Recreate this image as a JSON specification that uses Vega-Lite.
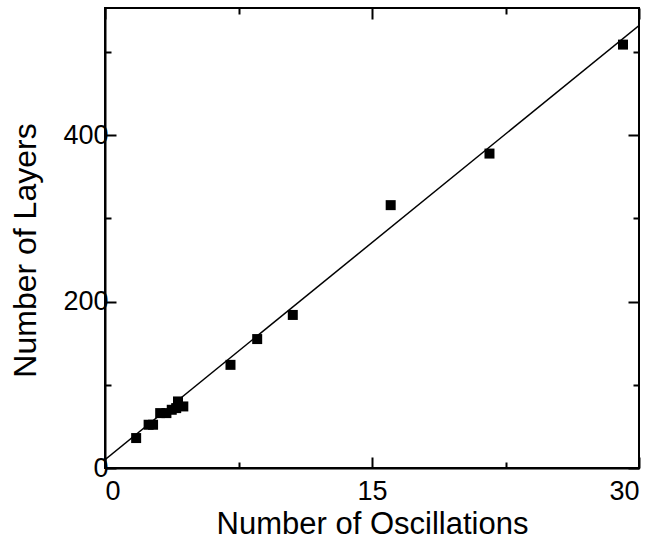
{
  "$schema": "https://vega.github.io/schema/vega-lite/v6.json",
  "width": 534,
  "height": 460,
  "autosize": {"type": "none"},
  "padding": {"left": 105, "top": 8, "right": 14, "bottom": 80},
  "background": "white",
  "config": {
    "view": {"stroke": "black", "strokeWidth": 2},
    "font": "Liberation Sans",
    "axis": {
      "domainColor": "black", "domainWidth": 2,
      "tickColor": "black", "tickWidth": 2,
      "grid": false,
      "labelFont": "Liberation Sans", "labelFontSize": 27, "labelColor": "black",
      "titleFont": "Liberation Sans", "titleFontSize": 31, "titleFontWeight": "normal", "titleColor": "black"
    }
  },
  "datasets": {
    "points": [
      {"osc": 1.75, "layers": 36},
      {"osc": 2.45, "layers": 52},
      {"osc": 2.7, "layers": 52},
      {"osc": 3.1, "layers": 66},
      {"osc": 3.45, "layers": 66},
      {"osc": 3.75, "layers": 70},
      {"osc": 4.0, "layers": 72},
      {"osc": 4.1, "layers": 80},
      {"osc": 4.4, "layers": 74},
      {"osc": 7.05, "layers": 124},
      {"osc": 8.55, "layers": 155},
      {"osc": 10.55, "layers": 184},
      {"osc": 16.05, "layers": 316},
      {"osc": 21.6, "layers": 378},
      {"osc": 29.1, "layers": 509}
    ],
    "fit": [
      {"osc": 0, "layers": 10},
      {"osc": 30, "layers": 532}
    ]
  },
  "layer": [
    {
      "data": {"name": "fit"},
      "mark": {"type": "line", "color": "black", "strokeWidth": 1.5, "clip": true},
      "encoding": {
        "x": {"field": "osc", "type": "quantitative", "scale": {"domain": [0, 30], "nice": false},
          "axis": {"orient": "top", "values": [0, 7.5, 15, 22.5, 30], "labels": false, "title": null, "domain": false,
            "tickSize": {"condition": {"test": "datum.value % 15 === 0", "value": -11}, "value": -6}}},
        "y": {"field": "layers", "type": "quantitative", "scale": {"domain": [0, 553], "nice": false},
          "axis": {"orient": "right", "values": [0, 100, 200, 300, 400, 500], "labels": false, "title": null, "domain": false,
            "tickSize": {"condition": {"test": "datum.value % 200 === 0", "value": -11}, "value": -6}}}
      }
    },
    {
      "data": {"name": "points"},
      "mark": {"type": "square", "color": "black", "filled": true, "opacity": 1, "size": 100},
      "encoding": {
        "x": {"field": "osc", "type": "quantitative",
          "axis": {"orient": "bottom", "values": [0, 7.5, 15, 22.5, 30], "title": "Number of Oscillations",
            "labelExpr": "datum.value % 15 === 0 ? datum.label : ''", "labelPadding": 21, "titlePadding": 5,
            "tickSize": {"condition": {"test": "datum.value % 15 === 0", "value": -11}, "value": -6}}},
        "y": {"field": "layers", "type": "quantitative",
          "axis": {"orient": "left", "values": [0, 100, 200, 300, 400, 500], "title": "Number of Layers",
            "labelExpr": "datum.value % 200 === 0 ? datum.label : ''", "labelPadding": 8, "titlePadding": 20,
            "titleFontSize": 32, "titleY": 242,
            "tickSize": {"condition": {"test": "datum.value % 200 === 0", "value": -11}, "value": -6}}}
      }
    }
  ]
}
